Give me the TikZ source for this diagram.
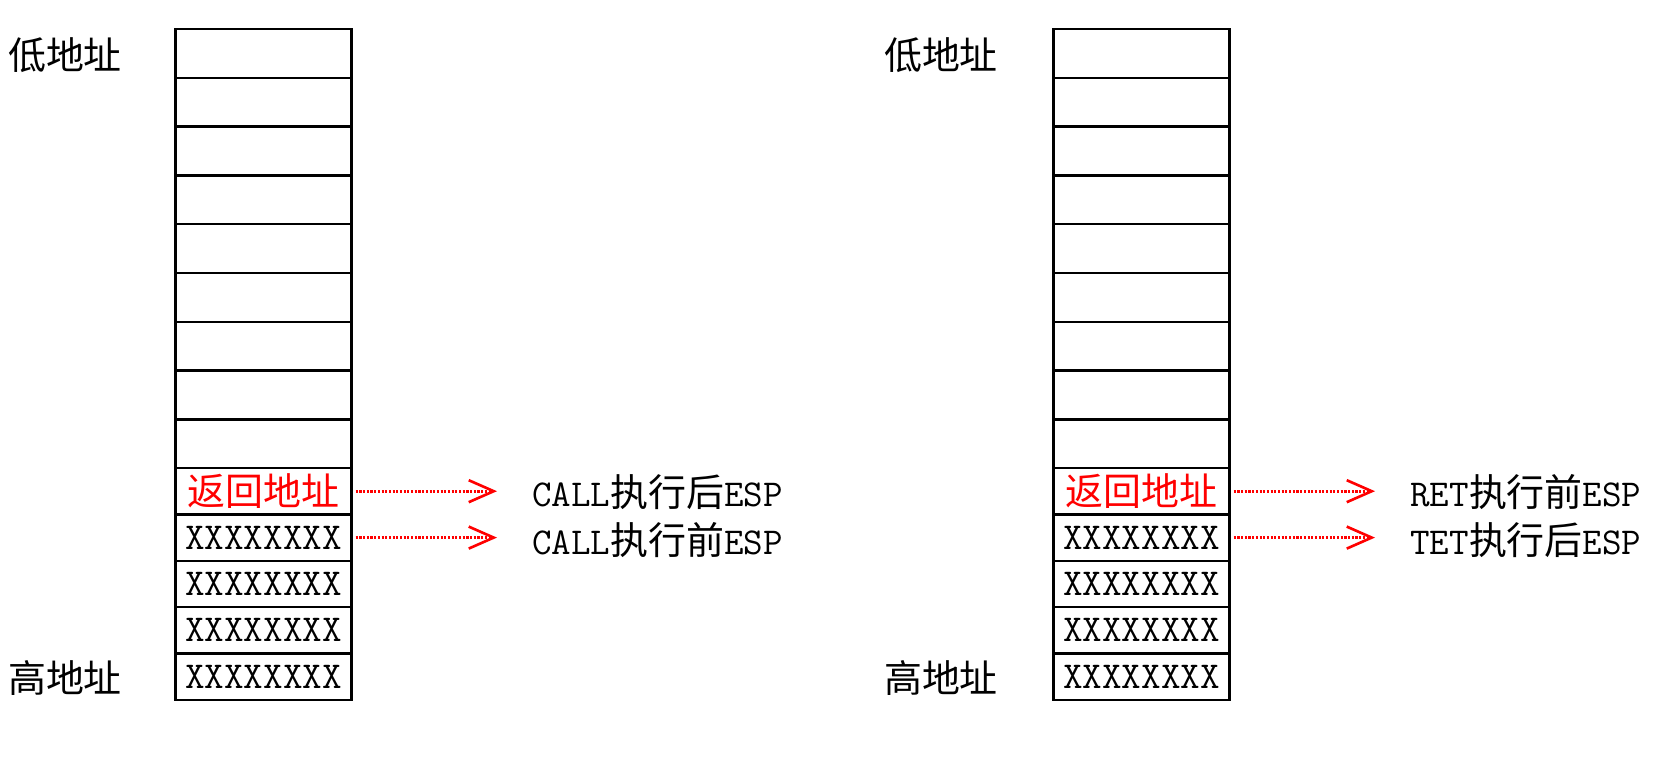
\documentclass[tikz,border=0pt]{standalone}
\usepackage{fontspec}
\usepackage{tikz}
\usetikzlibrary{arrows.meta}
\newfontfamily\cjk{Noto Sans CJK SC}

\begin{document}
\begin{tikzpicture}[x=0.02cm,y=-0.02cm,
  font=\ttfamily\fontsize{21.6pt}{24pt}\selectfont,
  cell/.style={draw, line width=1.4pt, minimum width=3.52cm, inner sep=0pt},
  espto/.style={red, line width=1.6pt, dash pattern=on 1.2pt off 0.9pt,
    shorten <=0.06cm, shorten >=0.7cm,
    -{Straight Barb[length=0.5cm, width=0.44cm, line width=1.5pt]}},
  esplabel/.style={anchor=west, inner sep=0pt}]
\useasboundingbox (0,0) rectangle (1659,759);
% empty cells
\foreach \i in {1,...,9}{
  \node[cell, minimum height=0.976cm](l\i) at (263.5,{29+48.8*(\i-0.5)}){};
  \node[cell, minimum height=0.976cm](r\i) at (1141.5,{29+48.8*(\i-0.5)}){};
}
% filled cells
\foreach \i in {10,...,14}{
  \ifnum\i=10
    \def\celltext{\textcolor{red}{\cjk 返回地址}}
  \else
    \def\celltext{XXXXXXXX}
  \fi
  \node[cell, minimum height=0.928cm](l\i) at (263.5,{468+46.4*(\i-9.5)}){\celltext};
  \node[cell, minimum height=0.928cm](r\i) at (1141.5,{468+46.4*(\i-9.5)}){\celltext};
}
\node (llow) at (65,55){\cjk 低地址};
\node (lhigh) at (65,678){\cjk 高地址};
\node (rlow) at (941,55){\cjk 低地址};
\node (rhigh) at (941,678){\cjk 高地址};
\node[esplabel] (lafter) at (532,492){CALL{\cjk 执行后}ESP};
\node[esplabel] (lbefore) at (532,540){CALL{\cjk 执行前}ESP};
\node[esplabel] (rbefore) at (1410,492){RET{\cjk 执行前}ESP};
\node[esplabel] (rafter) at (1410,540){TET{\cjk 执行后}ESP};
\draw[espto] (l10.east) -- (l10.east -| lafter.west);
\draw[espto] (l11.east) -- (l11.east -| lbefore.west);
\draw[espto] (r10.east) -- (r10.east -| rbefore.west);
\draw[espto] (r11.east) -- (r11.east -| rafter.west);
\end{tikzpicture}
\end{document}
